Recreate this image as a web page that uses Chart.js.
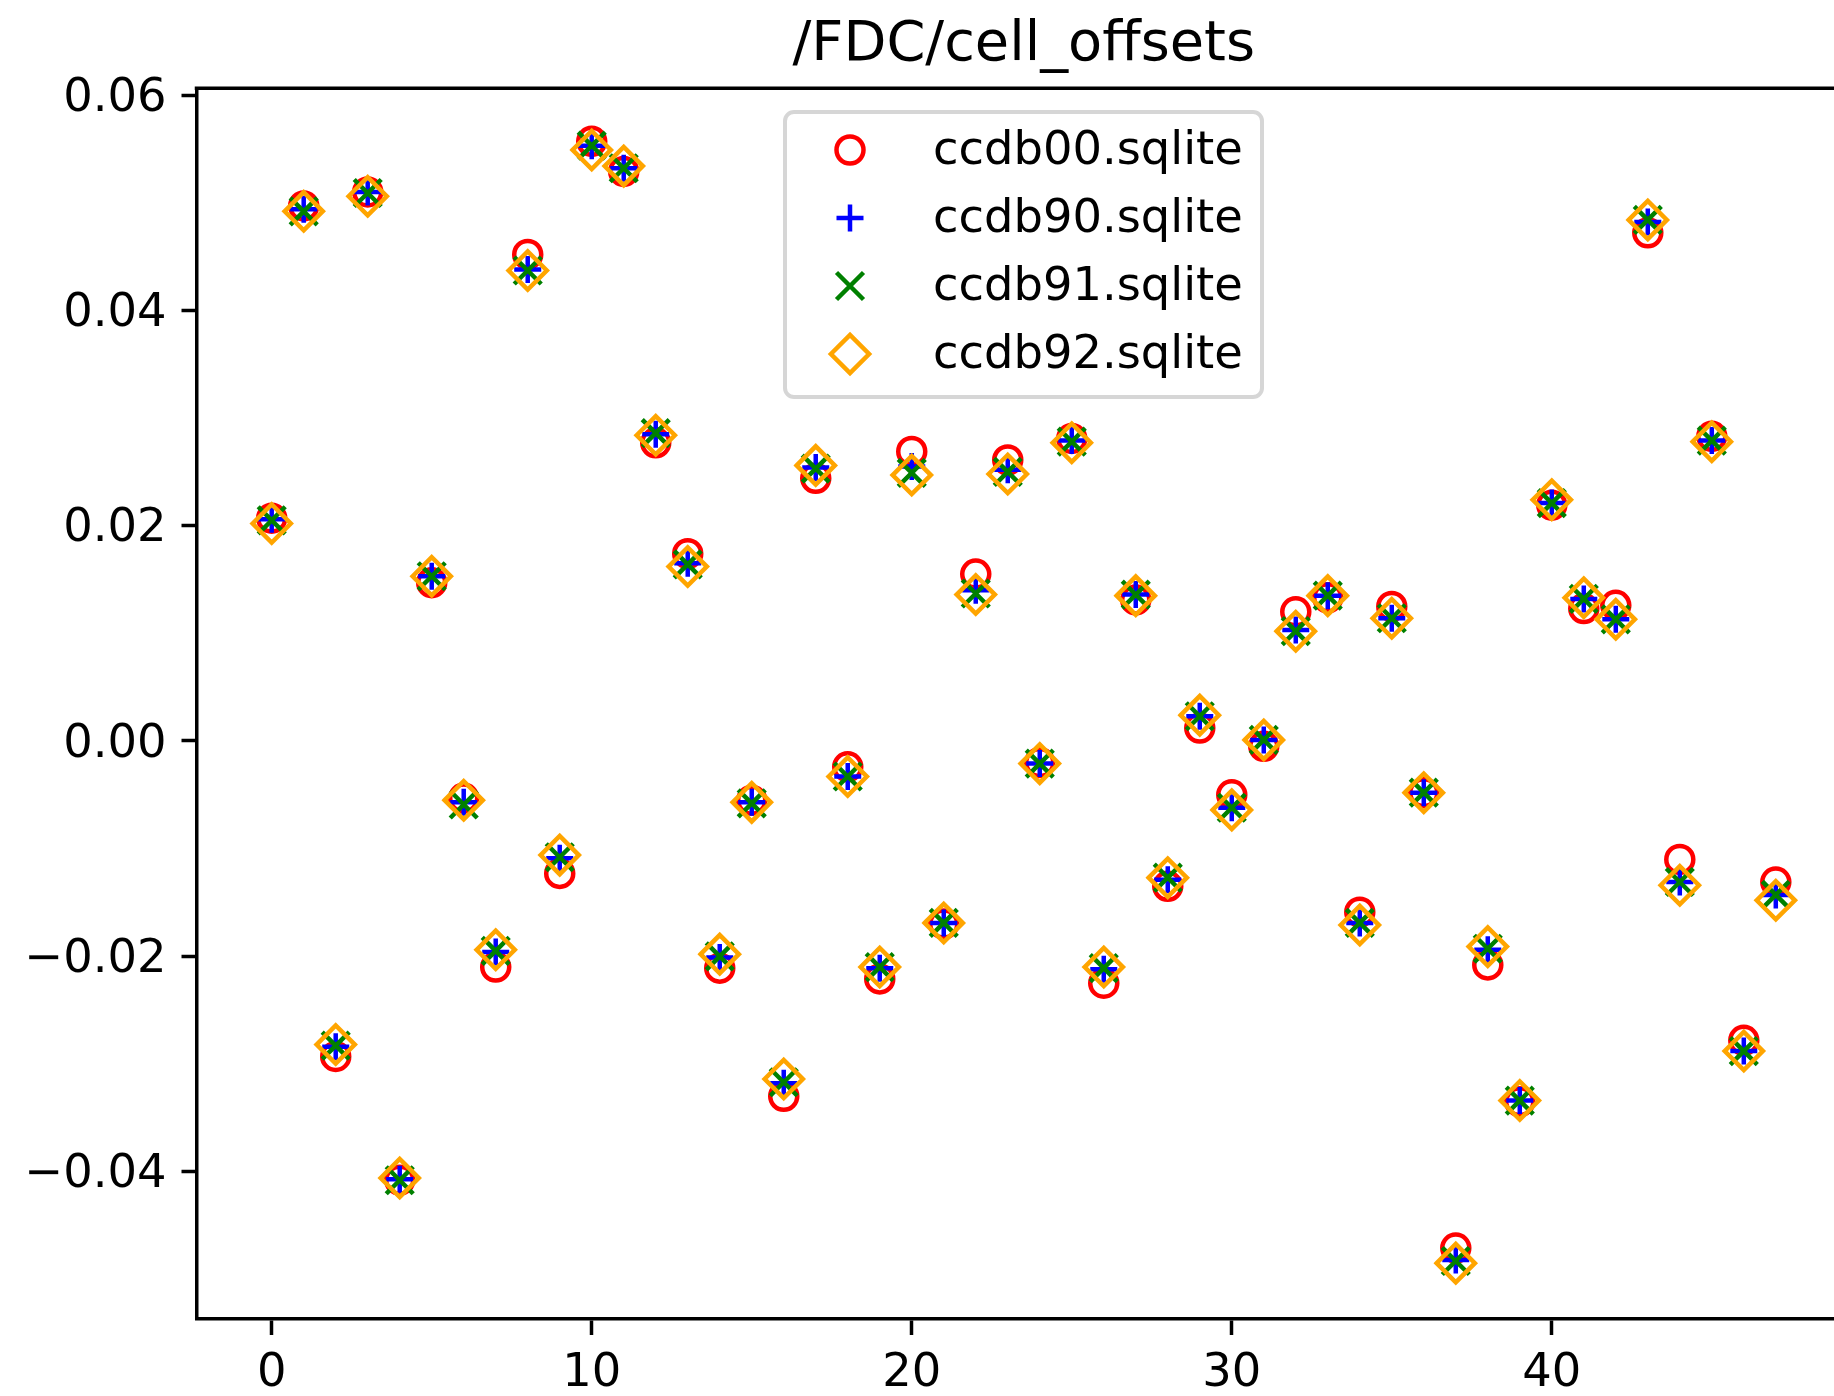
<!DOCTYPE html>
<html>
<head>
<meta charset="utf-8">
<title>/FDC/cell_offsets</title>
<script src="https://cdn.jsdelivr.net/npm/chart.js@4.4.1/dist/chart.umd.min.js"></script>
<style>
  html, body { margin: 0; padding: 0; background: #fff; overflow: hidden; }
  #wrap { position: absolute; left: 0; top: 0; width: 1880px; height: 1396px; }
</style>
</head>
<body>
<div id="wrap"><canvas id="offsetsChart"></canvas></div>
<script>
// cell index (x) and the offsets read from each calibration database
const cellIndex = [0, 1, 2, 3, 4, 5, 6, 7, 8, 9, 10, 11, 12, 13, 14, 15,
                   16, 17, 18, 19, 20, 21, 22, 23, 24, 25, 26, 27, 28, 29, 30, 31,
                   32, 33, 34, 35, 36, 37, 38, 39, 40, 41, 42, 43, 44, 45, 46, 47];

const ccdb00 = [0.0207, 0.0497, -0.0293, 0.0510, -0.0408, 0.0147, -0.0053, -0.0210,
                0.0452, -0.0123, 0.0557, 0.0529, 0.0277, 0.0174, -0.0211, -0.0055,
                -0.0330, 0.0244, -0.0024, -0.0221, 0.0269, -0.0170, 0.0155, 0.0261,
                -0.0020, 0.0281, -0.0225, 0.0131, -0.0135, 0.0012, -0.0050, -0.0005,
                0.0120, 0.0133, -0.0159, 0.0125, -0.0048, -0.0471, -0.0208, -0.0335,
                0.0219, 0.0123, 0.0126, 0.0472, -0.0110, 0.0283, -0.0278, -0.0131];

const ccdb90 = [0.0206, 0.0494, -0.0284, 0.0510, -0.0407, 0.0153, -0.0057, -0.0196,
                0.0438, -0.0109, 0.0553, 0.0532, 0.0285, 0.0165, -0.0201, -0.0057,
                -0.0318, 0.0254, -0.0033, -0.0211, 0.0255, -0.0169, 0.0140, 0.0252,
                -0.0021, 0.0279, -0.0212, 0.0136, -0.0129, 0.0023, -0.0062, 0.0001,
                0.0103, 0.0135, -0.0169, 0.0114, -0.0048, -0.0482, -0.0194, -0.0334,
                0.0221, 0.0132, 0.0113, 0.0482, -0.0131, 0.0279, -0.0288, -0.0143];

const ccdb91 = [0.0205, 0.0492, -0.0283, 0.0509, -0.0408, 0.0153, -0.0059, -0.0195,
                0.0437, -0.0108, 0.0553, 0.0532, 0.0286, 0.0164, -0.0200, -0.0058,
                -0.0317, 0.0253, -0.0033, -0.0210, 0.0249, -0.0169, 0.0137, 0.0250,
                -0.0021, 0.0278, -0.0211, 0.0136, -0.0127, 0.0023, -0.0062, 0.0001,
                0.0102, 0.0135, -0.0169, 0.0114, -0.0048, -0.0483, -0.0193, -0.0334,
                0.0221, 0.0132, 0.0113, 0.0484, -0.0131, 0.0279, -0.0288, -0.0143];

const ccdb92 = [0.0202, 0.0492, -0.0282, 0.0506, -0.0406, 0.0153, -0.0055, -0.0194,
                0.0437, -0.0106, 0.0549, 0.0534, 0.0284, 0.0162, -0.0198, -0.0057,
                -0.0314, 0.0256, -0.0033, -0.0210, 0.0247, -0.0169, 0.0136, 0.0248,
                -0.0021, 0.0277, -0.0210, 0.0135, -0.0127, 0.0024, -0.0064, 0.0001,
                0.0102, 0.0135, -0.0171, 0.0114, -0.0048, -0.0485, -0.0191, -0.0334,
                0.0224, 0.0133, 0.0113, 0.0484, -0.0134, 0.0278, -0.0288, -0.0148];

const seriesNames = ['ccdb00.sqlite', 'ccdb90.sqlite', 'ccdb91.sqlite', 'ccdb92.sqlite'];

// axis limits and ticks
const xLimits = [-2.35, 49.35];
const yLimits = [-0.05369, 0.06063];
const xStep = 10;
const yStep = 0.02;

const FONT = 'DejaVu Sans';
const TICK_SIZE = 46.4;

function toPoints(values) {
    return values.map((v, i) => ({ x: cellIndex[i], y: v }));
}

// matplotlib-like marker drawing, used for the legend handles
function drawMarker(ctx, style, r, x, y, color, lw) {
    ctx.save();
    ctx.strokeStyle = color;
    ctx.lineWidth = lw;
    ctx.beginPath();
    if (style === 'circle') {
        ctx.arc(x, y, r, 0, Math.PI * 2);
    } else if (style === 'cross') {
        ctx.moveTo(x, y - r); ctx.lineTo(x, y + r);
        ctx.moveTo(x - r, y); ctx.lineTo(x + r, y);
    } else if (style === 'crossRot') {
        const d = r * Math.SQRT1_2;
        ctx.moveTo(x - d, y - d); ctx.lineTo(x + d, y + d);
        ctx.moveTo(x - d, y + d); ctx.lineTo(x + d, y - d);
    } else if (style === 'rectRot') {
        ctx.moveTo(x - r, y); ctx.lineTo(x, y - r);
        ctx.lineTo(x + r, y); ctx.lineTo(x, y + r);
        ctx.closePath();
    }
    ctx.stroke();
    ctx.restore();
}

// top/right spines plus the boxed legend inside the axes
const framePlugin = {
    id: 'framePlugin',
    afterDraw(chart) {
        const ctx = chart.ctx;
        const a = chart.chartArea;
        ctx.save();
        ctx.strokeStyle = '#000';
        ctx.lineWidth = 3.5;
        ctx.beginPath();
        ctx.moveTo(a.left - 1.75, a.top);
        ctx.lineTo(a.right, a.top);
        ctx.lineTo(a.right, a.bottom);
        ctx.stroke();

        // legend box
        const bx = 785, by = 112, bw = 477, bh = 285, rad = 9;
        ctx.beginPath();
        ctx.roundRect(bx, by, bw, bh, rad);
        ctx.fillStyle = 'rgba(255,255,255,0.8)';
        ctx.fill();
        ctx.strokeStyle = 'rgba(204,204,204,0.8)';
        ctx.lineWidth = 4;
        ctx.stroke();

        const rowY = [150, 218, 286, 354];
        ctx.font = TICK_SIZE + 'px "' + FONT + '"';
        ctx.fillStyle = '#000';
        ctx.textAlign = 'left';
        ctx.textBaseline = 'middle';
        chart.data.datasets.forEach((ds, i) => {
            drawMarker(ctx, ds.pointStyle, ds.pointRadius, 850, rowY[i], ds.borderColor, ds.borderWidth);
            ctx.fillText(ds.label, 933, rowY[i] + 1.5);
        });
        ctx.restore();
    }
};

const ctx = document.getElementById('offsetsChart');

new Chart(ctx, {
    type: 'scatter',
    data: {
        datasets: [
            {
                label: seriesNames[0],
                data: toPoints(ccdb00),
                pointStyle: 'circle',
                pointRadius: 13.5,
                borderWidth: 4.5,
                borderColor: '#ff0000',
                backgroundColor: 'rgba(0,0,0,0)',
                order: 4
            },
            {
                label: seriesNames[1],
                data: toPoints(ccdb90),
                pointStyle: 'cross',
                pointRadius: 13.5,
                borderWidth: 4.5,
                borderColor: '#0000ff',
                backgroundColor: 'rgba(0,0,0,0)',
                order: 3
            },
            {
                label: seriesNames[2],
                data: toPoints(ccdb91),
                pointStyle: 'crossRot',
                pointRadius: 19.1,
                borderWidth: 4.5,
                borderColor: '#008000',
                backgroundColor: 'rgba(0,0,0,0)',
                order: 2
            },
            {
                label: seriesNames[3],
                data: toPoints(ccdb92),
                pointStyle: 'rectRot',
                pointRadius: 19.1,
                borderWidth: 4.5,
                borderColor: '#ffa500',
                backgroundColor: 'rgba(0,0,0,0)',
                order: 1
            }
        ]
    },
    options: {
        responsive: true,
        maintainAspectRatio: false,
        animation: false,
        events: [],
        clip: false,
        layout: { padding: { top: 0, left: 0, right: 29, bottom: 0 } },
        plugins: {
            legend: { display: false },
            tooltip: { enabled: false },
            title: {
                display: true,
                fullSize: false,
                text: '/FDC/cell_offsets',
                color: '#000',
                font: { family: FONT, size: 55.8, weight: 'normal', lineHeight: 1.2 },
                padding: { top: 12, bottom: 9.3 }
            }
        },
        scales: {
            x: {
                type: 'linear',
                position: 'bottom',
                min: xLimits[0],
                max: xLimits[1],
                afterFit: (s) => { s.height = 77; },
                border: { display: true, color: '#000', width: 3.5 },
                grid: { display: true, drawOnChartArea: false, drawTicks: true, tickLength: 16, tickWidth: 3.5, tickColor: '#000' },
                ticks: {
                    stepSize: xStep,
                    includeBounds: false,
                    color: '#000',
                    font: { family: FONT, size: TICK_SIZE },
                    padding: 11.5,
                    maxRotation: 0,
                    callback: (v) => String(Math.round(v))
                }
            },
            y: {
                type: 'linear',
                min: yLimits[0],
                max: yLimits[1],
                afterFit: (s) => { s.width = 196.5; },
                border: { display: true, color: '#000', width: 3.5 },
                grid: { display: true, drawOnChartArea: false, drawTicks: true, tickLength: 15, tickWidth: 3.5, tickColor: '#000' },
                ticks: {
                    stepSize: yStep,
                    includeBounds: false,
                    color: '#000',
                    font: { family: FONT, size: TICK_SIZE },
                    padding: 15,
                    labelOffset: 3.5,
                    callback: (v) => (Math.abs(v) < 1e-9 ? 0 : v).toFixed(2).replace('-', '\u2212')
                }
            }
        }
    },
    plugins: [framePlugin]
});
</script>
</body>
</html>
